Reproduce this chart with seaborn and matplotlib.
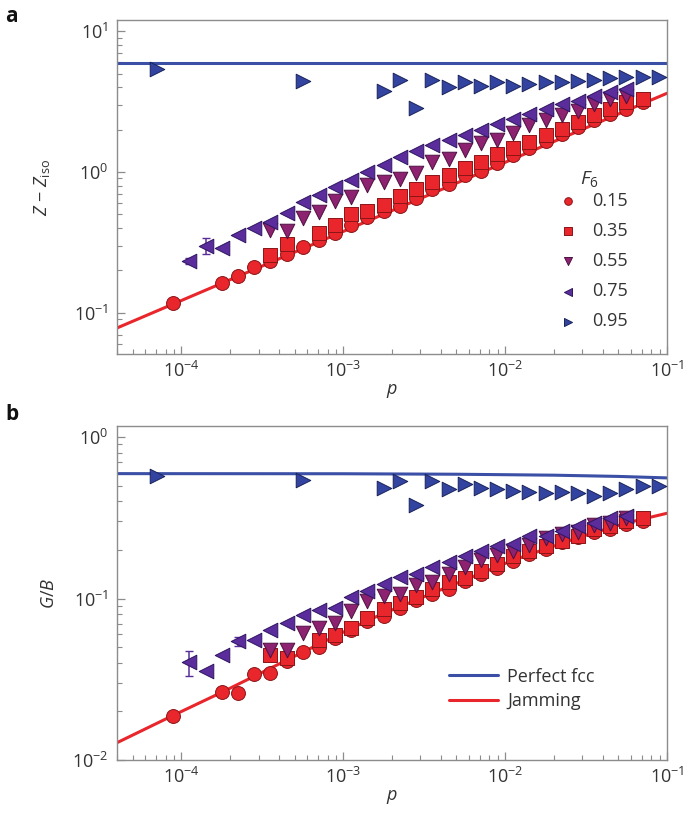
import matplotlib
matplotlib.use("Agg")
import matplotlib.pyplot as plt
import seaborn as sns
from matplotlib.lines import Line2D

# ---- pressure grid (~0.1 decade apart) ----
p_circ = [8.91e-5, 1.78e-4, 2.24e-4, 2.82e-4, 3.55e-4, 4.47e-4, 5.62e-4, 7.08e-4,
          8.91e-4, 1.12e-3, 1.41e-3, 1.78e-3, 2.24e-3, 2.82e-3, 3.55e-3, 4.47e-3,
          5.62e-3, 7.08e-3, 8.91e-3, 1.12e-2, 1.41e-2, 1.78e-2, 2.24e-2, 2.82e-2,
          3.55e-2, 4.47e-2, 5.62e-2, 7.08e-2]
p_sq = [3.55e-4, 4.47e-4, 7.08e-4, 8.91e-4, 1.12e-3, 1.41e-3, 1.78e-3, 2.24e-3,
        2.82e-3, 3.55e-3, 4.47e-3, 5.62e-3, 7.08e-3, 8.91e-3, 1.12e-2, 1.41e-2,
        1.78e-2, 2.24e-2, 2.82e-2, 3.55e-2, 4.47e-2, 5.62e-2, 7.08e-2]
p_down = [3.55e-4, 4.47e-4, 5.62e-4, 7.08e-4, 8.91e-4, 1.12e-3, 1.41e-3, 1.78e-3,
          2.24e-3, 2.82e-3, 3.55e-3, 4.47e-3, 5.62e-3, 7.08e-3, 8.91e-3, 1.12e-2,
          1.41e-2, 1.78e-2, 2.24e-2, 2.82e-2, 3.55e-2, 4.47e-2, 5.62e-2]
p_left = [1.12e-4, 1.41e-4, 1.78e-4, 2.24e-4, 2.82e-4, 3.55e-4, 4.47e-4, 5.62e-4,
          7.08e-4, 8.91e-4, 1.12e-3, 1.41e-3, 1.78e-3, 2.24e-3, 2.82e-3, 3.55e-3,
          4.47e-3, 5.62e-3, 7.08e-3, 8.91e-3, 1.12e-2, 1.41e-2, 1.78e-2, 2.24e-2,
          2.82e-2, 3.55e-2, 4.47e-2, 5.62e-2]
p_right = [7.08e-5, 5.62e-4, 1.78e-3, 2.24e-3, 2.82e-3, 3.55e-3, 4.47e-3, 5.62e-3,
           7.08e-3, 8.91e-3, 1.12e-2, 1.41e-2, 1.78e-2, 2.24e-2, 2.82e-2, 3.55e-2,
           4.47e-2, 5.62e-2, 7.08e-2, 8.91e-2]

# ---- panel a: Z - Z_iso ----
z_015 = [0.117, 0.164, 0.183, 0.21, 0.234, 0.26, 0.293, 0.33, 0.37, 0.42, 0.48, 0.525,
         0.577, 0.653, 0.755, 0.823, 0.953, 1.02, 1.16, 1.32, 1.47, 1.66, 1.87, 2.08,
         2.32, 2.59, 2.81, 3.13]
z_035 = [0.256, 0.306, 0.37, 0.42, 0.50, 0.525, 0.586, 0.67, 0.755, 0.855, 0.953, 1.06,
         1.18, 1.34, 1.47, 1.63, 1.82, 2.03, 2.26, 2.52, 2.81, 3.13, 3.30]
z_055 = [0.39, 0.38, 0.47, 0.52, 0.62, 0.66, 0.81, 0.855, 0.89, 0.99, 1.18, 1.23, 1.43,
         1.61, 1.68, 1.89, 2.14, 2.32, 2.52, 2.73, 3.05, 3.30, 3.49]
z_075 = [0.233, 0.298, 0.287, 0.354, 0.40, 0.44, 0.51, 0.61, 0.69, 0.78, 0.88, 1.0, 1.12,
         1.27, 1.41, 1.55, 1.68, 1.82, 1.97, 2.20, 2.39, 2.59, 2.81, 3.05, 3.21, 3.49,
         3.68, 3.88]
z_095 = [5.37, 4.45, 3.78, 4.52, 2.86, 4.52, 3.99, 4.37, 4.05, 4.32, 4.05, 4.21, 4.37,
         4.37, 4.45, 4.52, 4.64, 4.74, 4.74, 4.70]

# ---- panel b: G/B ----
g_015 = [0.0188, 0.0265, 0.0259, 0.0339, 0.0347, 0.0409, 0.0465, 0.0499, 0.0568, 0.064,
         0.0726, 0.0783, 0.0868, 0.0977, 0.107, 0.115, 0.129, 0.142, 0.155, 0.170, 0.189,
         0.203, 0.223, 0.239, 0.257, 0.269, 0.289, 0.302]
g_035 = [0.0449, 0.0428, 0.0555, 0.0596, 0.0661, 0.0754, 0.0858, 0.094, 0.102, 0.115,
         0.127, 0.133, 0.149, 0.164, 0.184, 0.198, 0.212, 0.228, 0.245, 0.269, 0.282,
         0.302, 0.313]
g_055 = [0.0482, 0.0482, 0.061, 0.0655, 0.0703, 0.0836, 0.0962, 0.104, 0.107, 0.121,
         0.127, 0.142, 0.156, 0.174, 0.186, 0.198, 0.214, 0.236, 0.25, 0.259, 0.284,
         0.295, 0.317]
g_075 = [0.0405, 0.0358, 0.0445, 0.0542, 0.0555, 0.0639, 0.0703, 0.079, 0.0848, 0.0877,
         0.102, 0.112, 0.123, 0.136, 0.142, 0.156, 0.168, 0.184, 0.198, 0.212, 0.217,
         0.245, 0.245, 0.262, 0.282, 0.295, 0.313, 0.325]
g_095 = [0.576, 0.545, 0.485, 0.537, 0.377, 0.532, 0.478, 0.513, 0.485, 0.473, 0.466,
         0.455, 0.447, 0.455, 0.451, 0.43, 0.451, 0.478, 0.496, 0.496]

# error bars that are visible (F6 = 0.75)
err_p = [1.12e-4, 1.41e-4]
err_a_lo = [0.222, 0.26]
err_a_hi = [0.245, 0.34]
err_pb = [1.12e-4, 2.24e-4]
err_b_lo = [0.033, 0.051]
err_b_hi = [0.047, 0.058]

# ---- reference curves ----
fcc_a_p = [4e-5, 0.1]
fcc_a = [5.96, 5.96]
jam_a_p = [4e-5, 0.1]
jam_a = [0.078, 3.62]
fcc_b_p = [4e-5, 1e-3, 5e-3, 2e-2, 5e-2, 0.1]
fcc_b = [0.593, 0.592, 0.588, 0.580, 0.570, 0.558]
jam_b_p = [4e-5, 8.9e-5, 1.81e-4, 1.02e-3, 1.68e-3, 4.42e-3, 1.11e-2, 2.89e-2, 5.73e-2, 0.1]
jam_b = [0.0128, 0.0189, 0.0265, 0.0625, 0.079, 0.118, 0.172, 0.24, 0.295, 0.337]

labels = ["0.15", "0.35", "0.55", "0.75", "0.95"]

sns.set_style("white")
plt.rcParams["font.family"] = ["Open Sans", "DejaVu Sans"]
plt.rcParams["mathtext.fontset"] = "custom"
plt.rcParams["mathtext.rm"] = "Open Sans"
plt.rcParams["mathtext.it"] = "Open Sans:italic"
plt.rcParams["mathtext.bf"] = "Open Sans:bold"

TXT = "#333333"
SPINE = "#8c8c8c"
RED = "#e8262b"
BLUE = "#3a4fa5"
styles = [("o", RED, "#8a1518", 100),
          ("s", RED, "#8a1518", 100),
          ("v", "#8c2270", "#4e1040", 110),
          ("<", "#5b2d9c", "#2f1560", 110),
          (">", "#3344a0", "#18225a", 110)]

fig = plt.figure(figsize=(6.85, 8.19), dpi=100)
ax_a = fig.add_axes([0.1708, 0.5678, 0.8029, 0.4078])
ax_b = fig.add_axes([0.1708, 0.0720, 0.8029, 0.4079])

panels = [
    (ax_a, [(p_circ, z_015), (p_sq, z_035), (p_down, z_055), (p_left, z_075), (p_right, z_095)],
     (fcc_a_p, fcc_a), (jam_a_p, jam_a), (err_p, err_a_lo, err_a_hi, z_075[:2]), (0.051, 12)),
    (ax_b, [(p_circ, g_015), (p_sq, g_035), (p_down, g_055), (p_left, g_075), (p_right, g_095)],
     (fcc_b_p, fcc_b), (jam_b_p, jam_b), (err_pb, err_b_lo, err_b_hi, [g_075[0], g_075[3]]), (0.0100, 1.17)),
]

for ax, series, fcc, jam, err, ylim in panels:
    sns.lineplot(x=fcc[0], y=fcc[1], ax=ax, color=BLUE, lw=2.2, zorder=1)
    sns.lineplot(x=jam[0], y=jam[1], ax=ax, color=RED, lw=2.2, zorder=1)
    ep, lo, hi, mid = err
    yerr = [[m - l for m, l in zip(mid, lo)], [h - m for m, h in zip(mid, hi)]]
    ax.errorbar(ep, mid, yerr=yerr, fmt="none", ecolor="#5b2d9c", elinewidth=1.1,
                capsize=3, zorder=2)
    for (px, vals), (mk, fc, ec, s), lab in zip(series, styles, labels):
        sns.scatterplot(x=px, y=vals, ax=ax, marker=mk, color=fc, edgecolor=ec,
                        linewidth=0.7, s=s, zorder=3, label=lab if ax is ax_a else None)
    ax.set_xscale("log")
    ax.set_yscale("log")
    ax.set_xlim(4e-5, 0.1)
    ax.set_ylim(*ylim)
    ax.set_xlabel("$p$", fontsize=13, color=TXT, labelpad=1)
    for sp in ax.spines.values():
        sp.set_color(SPINE)
        sp.set_linewidth(1.0)
    ax.tick_params(which="both", direction="in", colors=SPINE, labelcolor=TXT,
                   labelsize=13, top=False, right=False, bottom=True, left=True)
    ax.tick_params(which="major", length=6, width=0.9, pad=5)
    ax.tick_params(which="minor", length=3.5, width=0.8)
    ax.tick_params(axis="y", which="major", pad=6)

ax_a.set_ylabel(r"$Z$ − $Z_{\mathrm{iso}}$", fontsize=13, color=TXT)
ax_b.set_ylabel("$G/B$", fontsize=13, color=TXT)
ax_a.yaxis.set_label_coords(-0.118, 0.5)
ax_b.yaxis.set_label_coords(-0.107, 0.5)

# legend a (F6 values)
leg = ax_a.legend(title="$F_6$", loc="upper left", bbox_to_anchor=(0.765, 0.591),
                  frameon=False, markerscale=0.55, fontsize=13, title_fontsize=14,
                  labelspacing=0.67, handletextpad=0.3, borderpad=0.2)
leg._legend_box.sep = 2
for t in leg.get_texts():
    t.set_color(TXT)
leg.get_title().set_color(TXT)

# legend b (reference lines)
handles = [Line2D([], [], color=BLUE, lw=2.2), Line2D([], [], color=RED, lw=2.2)]
leg_b = ax_b.legend(handles, ["Perfect fcc", "Jamming"], loc="upper left",
                    bbox_to_anchor=(0.575, 0.325), frameon=False, fontsize=13,
                    handlelength=2.7, handletextpad=0.5, labelspacing=0.35)
for t in leg_b.get_texts():
    t.set_color(TXT)

fig.text(0.008, 0.993, "a", fontsize=15, fontweight="bold", va="top", color="#111111")
fig.text(0.008, 0.507, "b", fontsize=15, fontweight="bold", va="top", color="#111111")

fig.savefig("out.png", dpi=100)
